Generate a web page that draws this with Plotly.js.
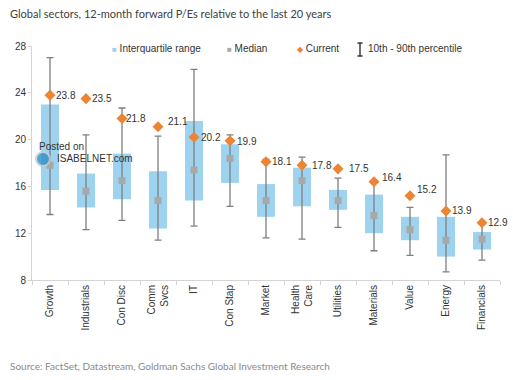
<!DOCTYPE html>
<html>
<head>
<meta charset="utf-8">
<script src="https://cdn.plot.ly/plotly-3.0.1.min.js"></script>
<style>html,body{margin:0;padding:0;background:#fff;}#chart{width:513px;height:380px;}</style>
</head>
<body>
<div id="chart"></div>
<script>
// ---- data ----
const categories = ["Growth","Industrials","Con Disc","Comm<br>Svcs","IT","Con Stap","Market","Health<br>Care","Utilities","Materials","Value","Energy","Financials"];
const p10     = [13.6, 12.3, 13.1, 11.4, 12.6, 14.3, 11.6, 11.5, 12.5, 10.5, 10.1,  8.7,  9.7];
const p90     = [27.0, 20.4, 22.7, 20.3, 26.0, 20.4, 18.3, 18.5, 16.7, 16.4, 14.2, 18.7, 12.9];
const q1      = [15.7, 14.2, 14.9, 12.4, 14.8, 16.3, 13.4, 14.3, 14.0, 12.0, 11.4, 10.0, 10.6];
const q3      = [23.0, 17.1, 18.8, 17.3, 21.6, 19.6, 16.2, 17.6, 15.7, 15.3, 13.4, 13.4, 12.1];
const median  = [17.8, 15.6, 16.5, 14.8, 17.4, 18.4, 14.8, 16.5, 14.8, 13.5, 12.3, 11.4, 11.5];
const current = [23.8, 23.5, 21.8, 21.1, 20.2, 19.9, 18.1, 17.8, 17.5, 16.4, 15.2, 13.9, 12.9];
const yTicks  = [8, 12, 16, 20, 24, 28];

// ---- styles ----
const labelDx = [4, 4, 2, 8, 5, 5, 4, 8, 9, 6, 5, 4, 4];
const labelDy = [0, 0, 0, 5, 0, -1, 0, 0, 0, 4, 6, 0, 0];
const W = 513, H = 380, ML = 32, MR = 13, MT = 46, MB = 100;
const PW = W - ML - MR, PH = H - MT - MB;
const px = x => (x - ML) / PW;
const py = y => (H - MB - y) / PH;
const FONT = '"Liberation Sans", Arial, sans-serif';
const TXT = '#333333';

const boxes = {
  type: 'bar', x: categories, base: q1,
  y: q3.map((v, i) => v - q1[i]),
  width: 0.5, marker: {color: '#9dd3ee', line: {width: 0}},
  hoverinfo: 'skip', showlegend: false
};
const whisk = {
  type: 'scatter', mode: 'markers', x: categories,
  y: p10.map((v, i) => (v + p90[i]) / 2),
  marker: {size: 1, opacity: 0},
  error_y: {type: 'data', array: p90.map((v, i) => (v - p10[i]) / 2), color: '#7f7f7f', thickness: 1.3, width: 3.5},
  showlegend: false, hoverinfo: 'skip'
};
const med = {
  type: 'scatter', mode: 'markers', x: categories, y: median,
  marker: {symbol: 'square', size: 7, color: '#a8a8a8'}, showlegend: false
};
const cur = {
  type: 'scatter', mode: 'markers', x: categories, y: current,
  marker: {symbol: 'diamond', size: 8.5, color: '#ec8434'}, showlegend: false
};

const annotations = current.map((v, i) => ({
  x: categories[i], y: v, xref: 'x', yref: 'y', text: v.toFixed(1),
  xanchor: 'left', yanchor: 'middle', showarrow: false,
  xshift: labelDx[i], yshift: labelDy[i],
  font: {family: FONT, size: 10, color: TXT}
}));

const legendItems = [
  {x: 110, text: '<span style="color:#9dd3ee;font-size:8px">■</span> Interquartile range'},
  {x: 225, text: '<span style="color:#a8a8a8;font-size:8px">■</span> Median'},
  {x: 295, text: '<span style="color:#ec8434;font-size:8px">◆</span> Current'},
  {x: 366, text: '10th - 90th percentile'}
];
legendItems.forEach(it => annotations.push({
  x: px(it.x), y: py(49), xref: 'paper', yref: 'paper', text: it.text,
  xanchor: 'left', yanchor: 'middle', showarrow: false,
  font: {family: FONT, size: 10, color: TXT}
}));

// title, source, watermark
annotations.push({
  x: px(8), y: py(13), xref: 'paper', yref: 'paper',
  text: 'Global sectors, 12-month forward P/Es relative to the last 20 years',
  xanchor: 'left', yanchor: 'middle', showarrow: false,
  font: {family: 'Lato, sans-serif', size: 11, color: '#404040'}
});
annotations.push({
  x: px(8), y: py(366), xref: 'paper', yref: 'paper',
  text: 'Source: FactSet, Datastream, Goldman Sachs Global Investment Research',
  xanchor: 'left', yanchor: 'middle', showarrow: false,
  font: {family: 'Lato, sans-serif', size: 10, color: '#8a8a8a'}
});
annotations.push({
  x: px(37), y: py(146), xref: 'paper', yref: 'paper', text: 'Posted on',
  xanchor: 'left', yanchor: 'middle', showarrow: false,
  font: {family: FONT, size: 10, color: '#333'}
});
annotations.push({
  x: px(55), y: py(158), xref: 'paper', yref: 'paper', text: 'ISABELNET.com',
  xanchor: 'left', yanchor: 'middle', showarrow: false,
  font: {family: FONT, size: 10, color: '#333'}
});

const shapes = [
  // I-beam legend symbol
  {type: 'path', xref: 'paper', yref: 'paper',
   path: `M ${px(357.5)} ${py(43)} L ${px(362.5)} ${py(43)} M ${px(360)} ${py(43)} L ${px(360)} ${py(56)} M ${px(357.5)} ${py(56)} L ${px(362.5)} ${py(56)}`,
   line: {color: '#333', width: 1.4}},
  // watermark logo
  {type: 'circle', xref: 'paper', yref: 'paper',
   x0: px(36), x1: px(50), y0: py(152), y1: py(166),
   fillcolor: '#2f8fc8', line: {color: '#c5ccd2', width: 2}, opacity: 0.8}
];

const layout = {
  width: W, height: H,
  margin: {l: ML, r: MR, t: MT, b: MB, pad: 0},
  paper_bgcolor: '#fff', plot_bgcolor: '#fff',
  showlegend: false, barmode: 'overlay',
  font: {family: FONT, size: 10, color: TXT},
  xaxis: {
    type: 'category', range: [-0.5, categories.length - 0.5],
    tickangle: -90, showgrid: false, zeroline: false,
    showline: true, linecolor: '#d4d4d4', linewidth: 1,
    ticks: 'outside', tickson: 'boundaries', ticklen: 4, tickcolor: '#d4d4d4',
    tickfont: {family: FONT, size: 10, color: TXT}, fixedrange: true
  },
  yaxis: {
    range: [8, 28], tickmode: 'array', tickvals: yTicks, ticktext: yTicks.map(String),
    showgrid: false, zeroline: false, showline: true, linecolor: '#d4d4d4', linewidth: 1,
    ticks: 'outside', ticklen: 3, tickcolor: '#d4d4d4',
    tickfont: {family: FONT, size: 10, color: TXT}, fixedrange: true
  },
  annotations: annotations, shapes: shapes
};

Plotly.newPlot('chart', [boxes, whisk, med, cur], layout, {displayModeBar: false, staticPlot: true});
</script>
</body>
</html>
